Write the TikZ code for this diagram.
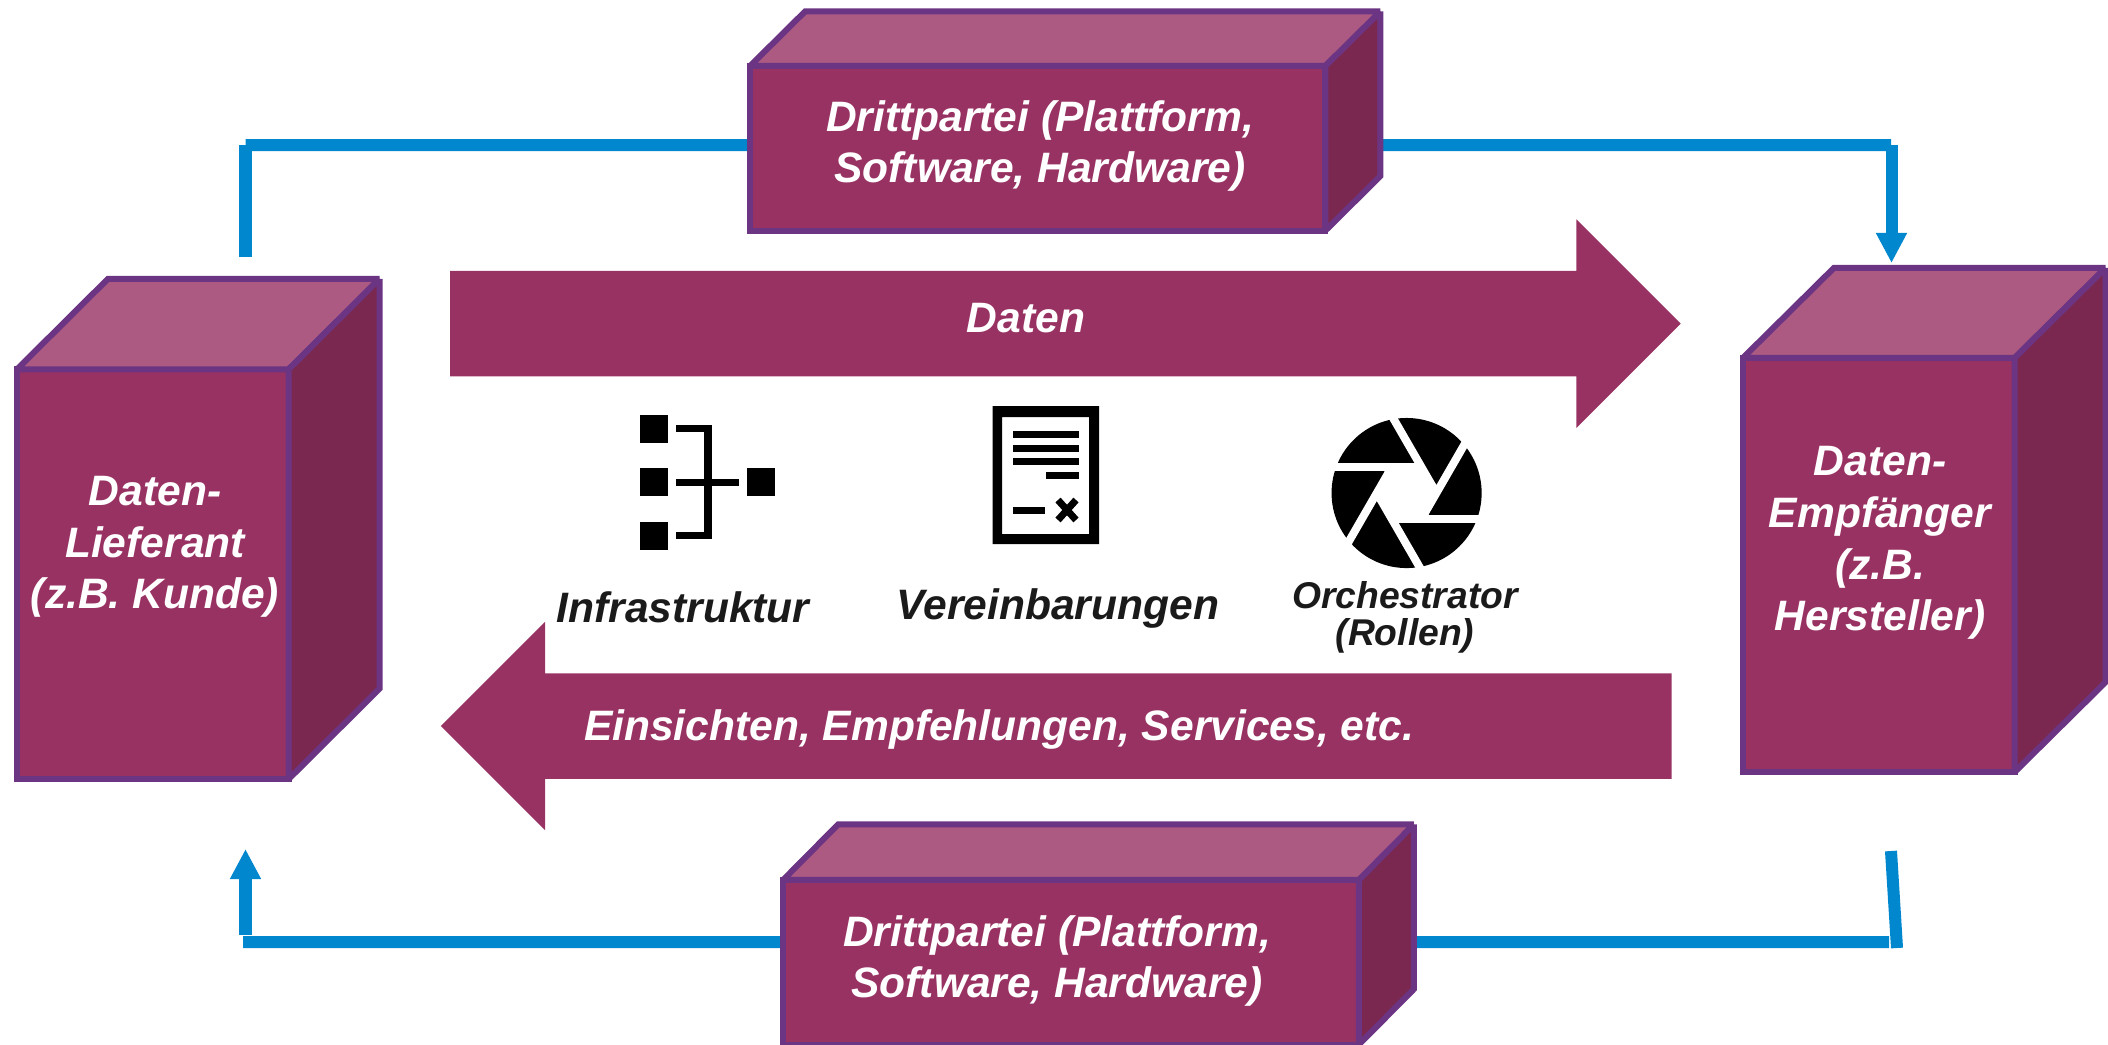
\documentclass[tikz,border=0pt]{standalone}
\usepackage{fontspec}
\setmainfont{Liberation Sans}
\usetikzlibrary{arrows.meta,backgrounds,shapes.arrows,shapes.geometric}

\definecolor{quaderfront}{HTML}{983262}
\definecolor{quadertop}{HTML}{AC5A82}
\definecolor{quaderside}{HTML}{7A2850}
\definecolor{quaderline}{HTML}{6C3584}
\definecolor{flowblue}{HTML}{0087CE}
\definecolor{icontext}{HTML}{1A1A1A}

\tikzset{
	front/.style={draw=quaderline,fill=quaderfront,line width=.06cm,outer sep=0,inner sep=0},
	topface/.style={draw=quaderline,fill=quadertop,line width=.06cm,miter limit=2,line cap=square},
	sideface/.style={draw=quaderline,fill=quaderside,line width=.06cm,miter limit=2,line cap=square},
	boxtext/.style={text=white,align=center,font=\bfseries\itshape\fontsize{12.1}{14.7}\selectfont},
	icontext/.style={text=icontext,align=center,font=\bfseries\itshape\fontsize{12.1}{14.7}\selectfont},
	bigarrow/.style={single arrow,fill=quaderfront,inner xsep=0,inner ysep=.52cm,outer sep=0,
		minimum height=12.3cm,single arrow head extend=.515cm},
	flow/.style={draw=flowblue,line width=.12cm},
	iconbit/.style={fill=black},
	blade/.style={draw=white,line width=.08cm}
}

\begin{document}
\begin{tikzpicture}[x=.01cm,y=-.01cm,>={Triangle[length=.3cm,width=.29cm]}]
	\useasboundingbox (0,0) rectangle (2108,1044);

	% front faces
	\node[front,minimum width=2.715cm,minimum height=4.095cm] (lieferant) at (152.75,574.25) {};
	\node[front,minimum width=2.715cm,minimum height=4.14cm]  (empfaenger) at (1878.75,565) {};
	\node[front,minimum width=5.75cm,minimum height=1.645cm]  (drittoben) at (1037.75,148.25) {};
	\node[front,minimum width=5.755cm,minimum height=1.645cm] (drittunten) at (1071,962.25) {};

	% top and side faces
	\draw[topface]  ([shift={(91,-90.5)}]lieferant.north east) -- ([shift={(91,-90.5)}]lieferant.north west) -- (lieferant.north west) -- (lieferant.north east) -- ++(91,-90.5);
	\draw[sideface] ([shift={(91,-90.5)}]lieferant.north east) -- ([shift={(91,-90.5)}]lieferant.south east) -- (lieferant.south east) -- (lieferant.north east) -- ++(91,-90.5);
	\draw[topface]  ([shift={(91,-90)}]empfaenger.north east) -- ([shift={(91,-90)}]empfaenger.north west) -- (empfaenger.north west) -- (empfaenger.north east) -- ++(91,-90);
	\draw[sideface] ([shift={(91,-90)}]empfaenger.north east) -- ([shift={(91,-90)}]empfaenger.south east) -- (empfaenger.south east) -- (empfaenger.north east) -- ++(91,-90);
	\draw[topface]  ([shift={(55,-54.5)}]drittoben.north east) -- ([shift={(55,-54.5)}]drittoben.north west) -- (drittoben.north west) -- (drittoben.north east) -- ++(55,-54.5);
	\draw[sideface] ([shift={(55,-54.5)}]drittoben.north east) -- ([shift={(55,-54.5)}]drittoben.south east) -- (drittoben.south east) -- (drittoben.north east) -- ++(55,-54.5);
	\draw[topface]  ([shift={(55,-55.5)}]drittunten.north east) -- ([shift={(55,-55.5)}]drittunten.north west) -- (drittunten.north west) -- (drittunten.north east) -- ++(55,-55.5);
	\draw[sideface] ([shift={(55,-55.5)}]drittunten.north east) -- ([shift={(55,-55.5)}]drittunten.south east) -- (drittunten.south east) -- (drittunten.north east) -- ++(55,-55.5);

	% labels of the boxes
	\node[boxtext] (lieferantText)  at (155,547) {Daten-\\Lieferant\\(z.B. Kunde)};
	\node[boxtext] (empfaengerText) at (1880,543) {Daten-\\Empfänger\\(z.B.\\Hersteller)};
	\node[boxtext] (drittobenText)  at (1040,146) {Drittpartei (Plattform,\\Software, Hardware)};
	\node[boxtext] (drittuntenText) at (1057,961) {Drittpartei (Plattform,\\Software, Hardware)};

	% connectors
	\coordinate (startOben) at (245.5,257);
	\coordinate (eckeOben) at (245.5,145);
	\coordinate (eckeRechts) at (1891,145);
	\coordinate (spitzeOben) at (1891.5,263);
	\coordinate (startUnten) at (1891,851);
	\coordinate (eckeUnten) at (1897,948);
	\coordinate (endeUnten) at (1889,942);
	\coordinate (ausUnten) at (243,942);
	\coordinate (fussUnten) at (245.5,935);
	\coordinate (spitzeUnten) at (245.5,849);
	\begin{scope}[on background layer]
		\draw[flow] (startOben) -- (eckeOben);
		\draw[flow] (eckeOben) -- ([yshift=.0325cm]drittoben.center);
		\draw[flow] ([yshift=.0325cm]drittoben.center) -- (eckeRechts);
		\draw[flow,->] (spitzeOben |- eckeRechts) -- (spitzeOben);
		\draw[flow] (startUnten) -- (eckeUnten);
		\draw[flow] ([yshift=.2025cm]drittunten.center) -- (endeUnten);
		\draw[flow] ([yshift=.2025cm]drittunten.center) -- (ausUnten);
		\draw[flow,->] (fussUnten) -- (spitzeUnten);
	\end{scope}

	% big arrows
	\node[bigarrow] (datenPfeil) at (1039,323.5) {};
	\node[bigarrow,shape border rotate=180] (insightPfeil) at (1082.5,726) {};
	\node[boxtext] (datenText)   at (1026,318) {Daten};
	\node[boxtext] (insightText) at (999,729) {Einsichten, Empfehlungen, Services, etc.};

	% icon infrastructure
	\fill[iconbit] (640,415) rectangle (668,443);
	\fill[iconbit] (640,468) rectangle (668,496);
	\fill[iconbit] (640,522) rectangle (668,550);
	\fill[iconbit] (747,468) rectangle (775,496);
	\fill[iconbit] (676,425) rectangle (712,432);
	\fill[iconbit] (704,425) rectangle (712,539);
	\fill[iconbit] (676,532) rectangle (712,539);
	\fill[iconbit] (676,479) rectangle (739,486);
	\node[icontext] (infraText) at (683,607) {Infrastruktur};

	% icon agreement
	\fill[iconbit,even odd rule] (992.5,406) rectangle (1099,544) (1002,417) rectangle (1089,534);
	\fill[iconbit] (1013,431) rectangle (1079,438);
	\fill[iconbit] (1013,445) rectangle (1079,452);
	\fill[iconbit] (1013,458) rectangle (1079,465);
	\fill[iconbit] (1046,472) rectangle (1079,479);
	\fill[iconbit] (1013,507) rectangle (1045,514);
	\draw[line width=.07cm] (1058,500) -- (1076,520) (1076,500) -- (1058,520);
	\node[icontext] (vereinText) at (1058,608) {Vereinbarungen};

	% icon shutter
	\node[circle,fill=black,minimum size=1.5cm,inner sep=0] (blende) at (1406.6,493) {};
	\begin{scope}[shift={(1406.6,493)}]
		\draw[blade] (-80,-25.8) -- (12,-25.8);
		\draw[blade,rotate=60] (-80,-25.8) -- (12,-25.8);
		\draw[blade,rotate=120] (-80,-25.8) -- (12,-25.8);
		\draw[blade,rotate=180] (-80,-25.8) -- (12,-25.8);
		\draw[blade,rotate=240] (-80,-25.8) -- (12,-25.8);
		\draw[blade,rotate=300] (-80,-25.8) -- (12,-25.8);
	\end{scope}
	\node[regular polygon,regular polygon sides=6,shape border rotate=15,fill=white,minimum size=.62cm,inner sep=0] (blendeLoch) at (blende) {};
	\node[icontext,font=\bfseries\itshape\fontsize{10.6}{10.6}\selectfont] (orchText) at (1405,617) {Orchestrator\\(Rollen)};
\end{tikzpicture}
\end{document}
